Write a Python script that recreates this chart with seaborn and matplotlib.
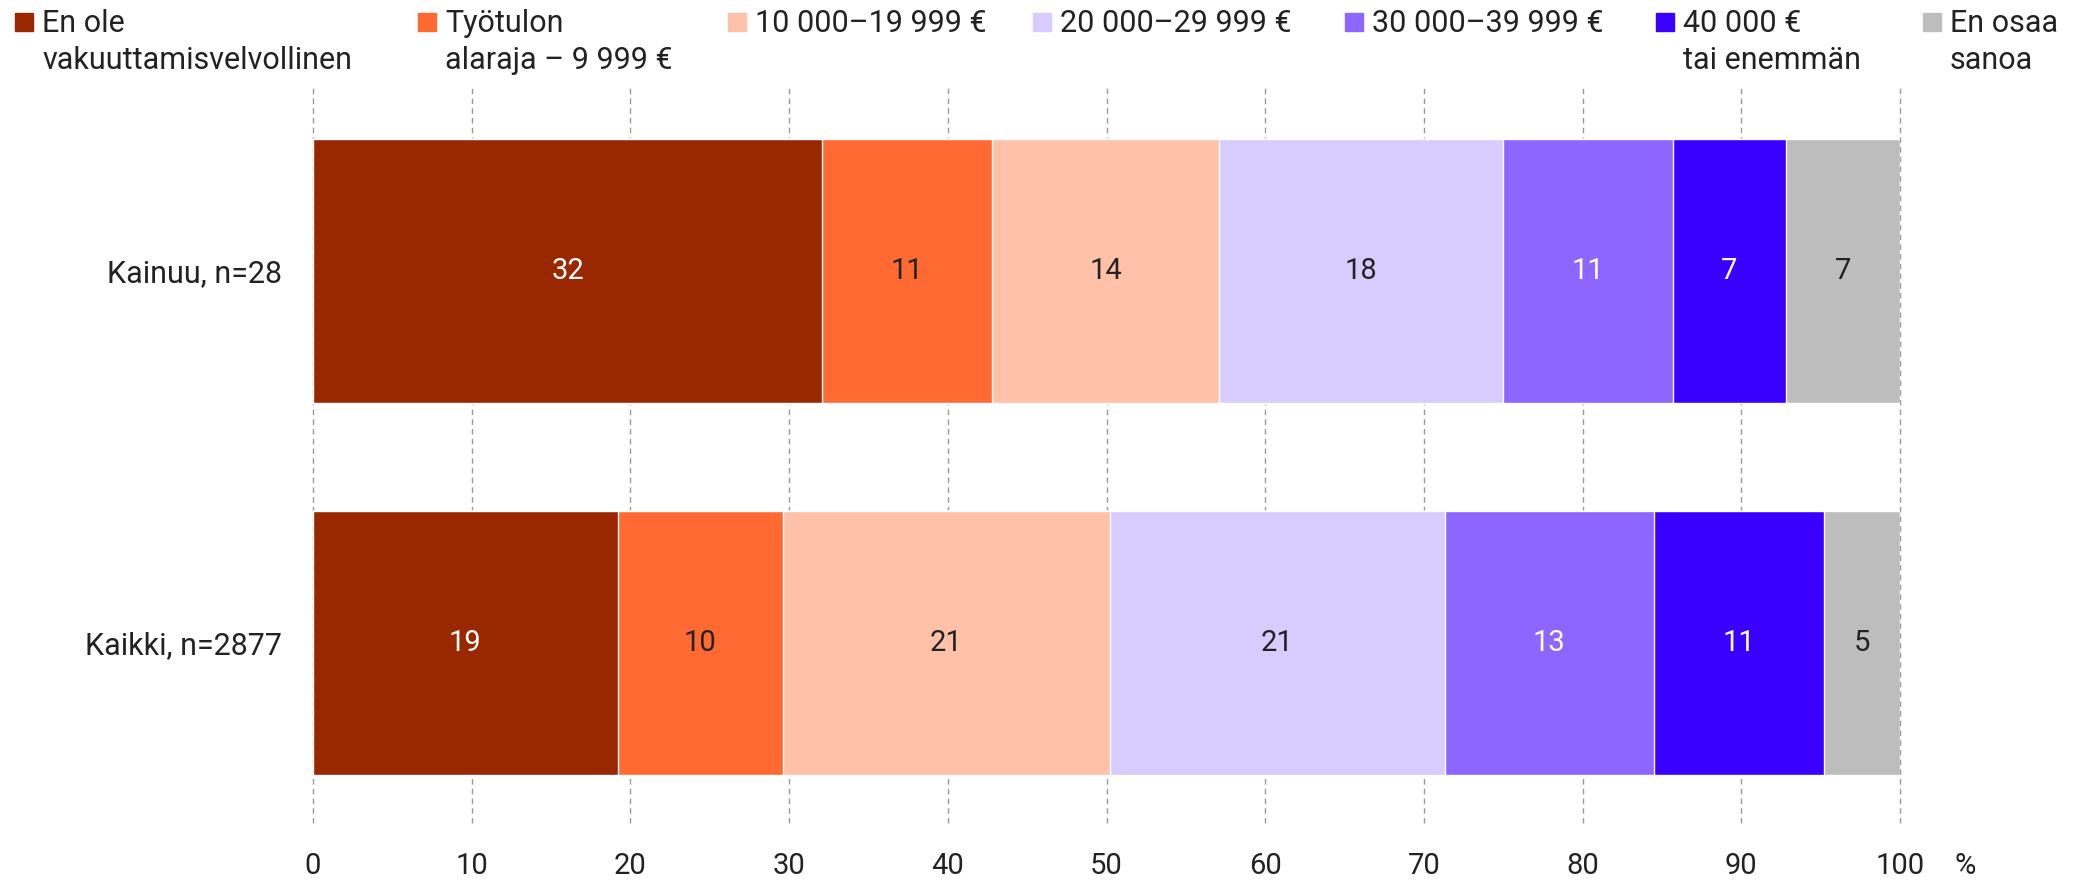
import numpy as np
import pandas as pd
import seaborn as sns
import matplotlib.pyplot as plt
from matplotlib.patches import Rectangle

# Data (percent shares)
groups = ["Kainuu, n=28", "Kaikki, n=2877"]
categories = ["En ole\nvakuuttamisvelvollinen", "Työtulon\nalaraja – 9 999 €",
              "10 000–19 999 €", "20 000–29 999 €", "30 000–39 999 €",
              "40 000 €\ntai enemmän", "En osaa\nsanoa"]
kainuu = [32.1, 10.7, 14.3, 17.9, 10.7, 7.1, 7.2]
kaikki = [19.2, 10.4, 20.6, 21.1, 13.2, 10.7, 4.8]
xticks = [0, 10, 20, 30, 40, 50, 60, 70, 80, 90, 100]

colors = ["#992800", "#FF6A33", "#FFC2A8", "#D8CCFF", "#8C66FF", "#3A00FF", "#BDBDBD"]
label_colors = ["white", "#222222", "#222222", "#222222", "white", "white", "#222222"]

sns.set_style("white")
plt.rcParams['font.family'] = ['Roboto', 'DejaVu Sans']
text_col = "#222222"

df = pd.DataFrame({"group": groups})
vals = np.array([kainuu, kaikki])
cum = np.cumsum(vals, axis=1)

W, H = 2079, 882
fig = plt.figure(figsize=(W / 100, H / 100), dpi=100)
ax = fig.add_axes([313 / W, 1 - 823 / H, 1587 / W, 738 / H])

# dashed grid lines behind the bars
for t in xticks:
    ax.axvline(t, color="#999999", linestyle=(0, (4, 3)), linewidth=1,
               zorder=0, clip_on=False)

# stacked bars: draw cumulative totals from the last category backwards
for i in range(len(categories) - 1, -1, -1):
    d = df.copy()
    d["val"] = cum[:, i]
    sns.barplot(data=d, y="group", x="val", color=colors[i], orient="h",
                width=0.71, saturation=1, edgecolor="white", linewidth=1,
                ax=ax, zorder=2)

# value labels in the middle of each segment
for r in range(len(groups)):
    for i in range(len(categories)):
        mid = cum[r, i] - vals[r, i] / 2
        ax.text(mid, r, f"{vals[r, i]:.0f}", ha="center", va="center",
                fontsize=21, color=label_colors[i], zorder=3)

ax.set_xlim(0, 100)
ax.set_ylim(1.484, -0.5)
ax.set_xticks(xticks)
ax.set_xticklabels([str(t) for t in xticks], fontsize=21, color=text_col)
ax.tick_params(axis="x", length=0, pad=21)
ax.tick_params(axis="y", length=0, pad=22, labelsize=22, labelcolor=text_col)
ax.set_xlabel("")
ax.set_ylabel("")
for s in ax.spines.values():
    s.set_visible(False)

# unit label to the right of the last tick
ax.text(104.1, -29 / 738, "%", transform=ax.get_xaxis_transform(),
        ha="center", va="top", fontsize=21, color=text_col)

# legend drawn by hand at the top
legend_x = [15, 418, 728, 1033, 1345, 1656, 1923]
for x, lab, c in zip(legend_x, categories, colors):
    fig.add_artist(Rectangle((x / W, 1 - 31 / H), 18 / W, 18 / H,
                             transform=fig.transFigure, color=c))
    fig.text((x + 27) / W, 1 - 9 / H, lab, ha="left", va="top", fontsize=22,
             color=text_col, linespacing=1.34)

fig.savefig("out.png", dpi=100)
